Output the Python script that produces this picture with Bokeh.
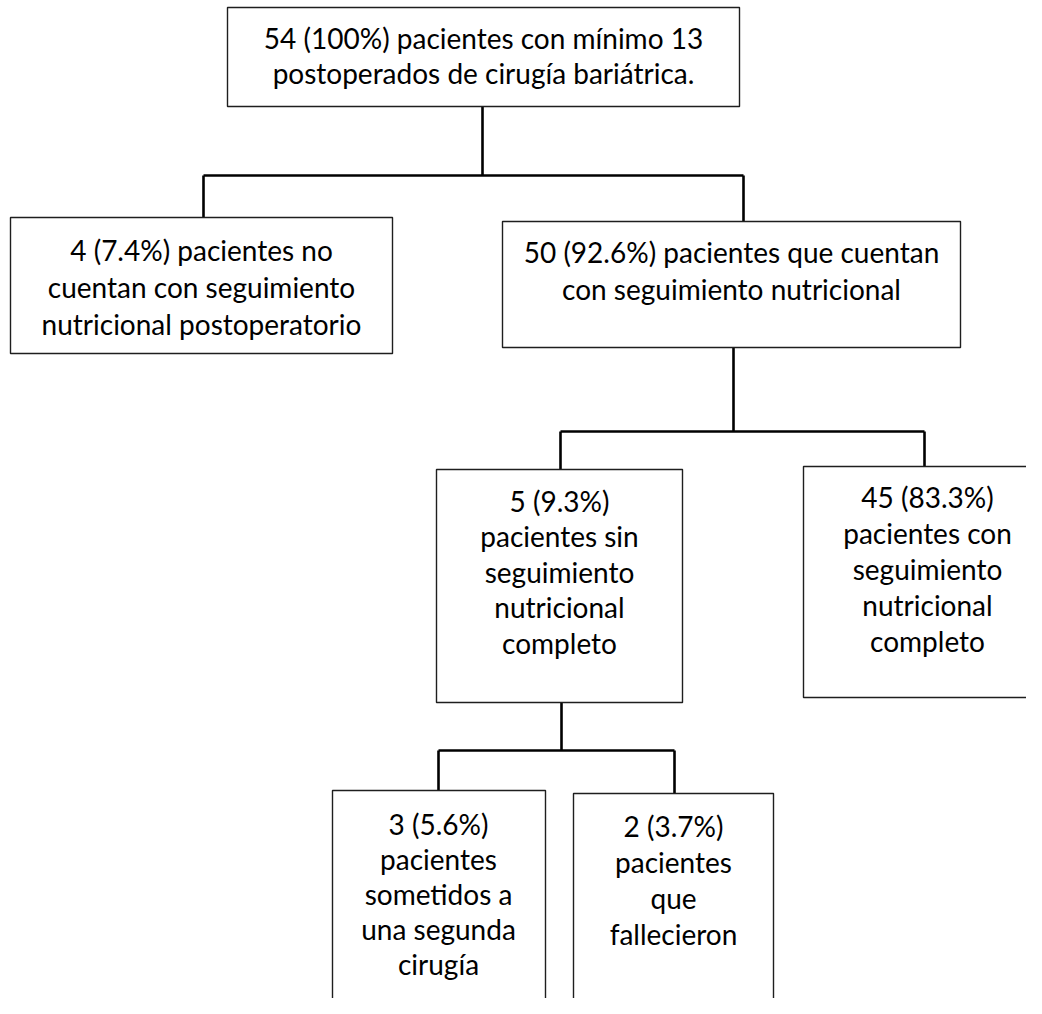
from bokeh.plotting import figure
from bokeh.models import ColumnDataSource, Range1d
from bokeh.core.properties import value
from bokeh.embed import file_html
from bokeh.resources import INLINE

# ---------------- data ----------------
counts = [54, 4, 50, 5, 45, 3, 2]
percents = ["100%", "7.4%", "92.6%", "9.3%", "83.3%", "5.6%", "3.7%"]
head_suffix = [" pacientes con mínimo 13", " pacientes no", " pacientes que cuentan", "", "", "", ""]
rest_lines = [
    ["postoperados de cirugía bariátrica."],
    ["cuentan con seguimiento", "nutricional postoperatorio"],
    ["con seguimiento nutricional"],
    ["pacientes sin", "seguimiento", "nutricional", "completo"],
    ["pacientes con", "seguimiento", "nutricional", "completo"],
    ["pacientes", "sometidos a", "una segunda", "cirugía"],
    ["pacientes", "que", "fallecieron"],
]
# parent -> children
edges = [(0, 1), (0, 2), (2, 3), (2, 4), (3, 5), (3, 6)]

# ---------------- layout (screen pixels) ----------------
box_left = [227, 10, 502, 436, 803, 332, 573]
box_right = [739, 392, 960, 682, 1050, 545, 773]
box_top = [7, 217, 221, 469, 466, 790, 793]
box_bottom = [106, 353, 347, 702, 697, 1030, 1030]
text_cx = [483, 201, 731, 559, 927, 438, 673]
text_y0 = [37, 249, 251, 500, 496, 823, 825]
text_gap = [35, 37, 37, 35.5, 36, 35, 36]
anchor_x = [482, 203, 743, 560, 924, 438, 674]    # where the line from the parent enters
stem_x = {0: 482, 2: 733, 3: 561}                 # where the line leaves the parent
bus_y = {0: 175, 2: 431, 3: 750}

W, H = 1026, 998
p = figure(width=W, height=H, output_backend="svg", toolbar_location=None,
           x_range=Range1d(0, W), y_range=Range1d(H, 0),
           min_border=0, background_fill_color="white", border_fill_color="white")
p.axis.visible = False
p.grid.visible = False
p.outline_line_color = None

# connectors
xs, ys = [], []
for parent in sorted(set(e[0] for e in edges)):
    kids = [c for (pa, c) in edges if pa == parent]
    by = bus_y[parent]
    sx = stem_x[parent]
    xs.append([sx, sx]); ys.append([box_bottom[parent], by])
    kx = [anchor_x[k] for k in kids]
    xs.append([min(kx + [sx]), max(kx + [sx])]); ys.append([by, by])
    for k in kids:
        xs.append([anchor_x[k], anchor_x[k]]); ys.append([by, box_top[k]])
p.multi_line(xs=xs, ys=ys, line_color="black", line_width=2.6)

# boxes
box_src = ColumnDataSource(dict(left=box_left, right=box_right, top=box_top, bottom=box_bottom))
p.quad(left="left", right="right", top="top", bottom="bottom", source=box_src,
       fill_color="white", line_color="#1e1e1e", line_width=1.4)

# texts
tx, ty, tt = [], [], []
for i, n in enumerate(counts):
    lines = [f"{n} ({percents[i]}){head_suffix[i]}"] + rest_lines[i]
    for j, s in enumerate(lines):
        tx.append(text_cx[i]); ty.append(text_y0[i] + j * text_gap[i]); tt.append(s)
p.text(x=tx, y=ty, text=tt, text_align="center", text_baseline="middle",
       text_font=value("Lato"), text_font_size="28px", text_color="black")

open("out.html", "w").write(file_html(p, INLINE))
